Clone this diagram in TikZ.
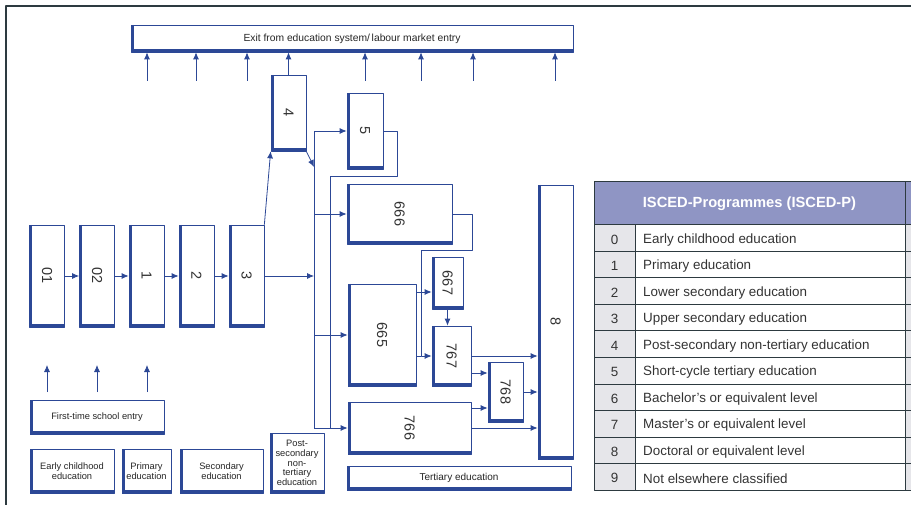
\documentclass[tikz,border=0pt]{standalone}
\usepackage{fontspec}
\setmainfont{Liberation Sans}
\usepackage{graphicx}
\usetikzlibrary{arrows.meta}

\definecolor{iscedblue}{RGB}{44,72,150}
\definecolor{headblue}{RGB}{143,149,196}
\definecolor{cellgrey}{RGB}{230,230,234}
\definecolor{framegrey}{RGB}{45,58,64}
\newcommand{\vlab}[1]{\rotatebox{-90}{#1}}

\begin{document}
\begin{tikzpicture}[x=1pt,y=-1pt,>={Latex[length=7pt,width=6pt]},line join=round,
    blk/.style={draw=iscedblue,line width=.7pt,fill=white,inner sep=1pt,
      path picture={\draw[iscedblue,line width=5.5pt]
        (path picture bounding box.north west) -- (path picture bounding box.south west)
        -- (path picture bounding box.south east);}},
    flow/.style={iscedblue,line width=.8pt},
    numlab/.style={font=\fontsize{14.5}{16}\selectfont,text=black!80},
    txtsmall/.style={font=\fontsize{9.3}{9.6}\selectfont,align=center,text=black!85},
    tabline/.style={framegrey,line width=1pt},
    tabtxt/.style={font=\fontsize{13.4}{15}\selectfont,text=black!80,inner sep=0pt}]
    \useasboundingbox (0,0) rectangle (911,505);

    % Frame of the figure.
    \draw[framegrey,line width=1.5pt] (6,505) -- (6,6) -- (911,6);

    % Exit bar at the top.
    \node[blk,txtsmall,font=\fontsize{10.3}{12}\selectfont,minimum width=442pt,minimum height=27pt] (exit) at (352,38.5)
      {Exit from education system/\,labour market entry};

    % The chain of school levels.
    \node[blk,numlab,minimum width=35pt,minimum height=102pt] (n01) at (47,276) {\vlab{01}};
    \node[blk,numlab,minimum width=35pt,minimum height=102pt] (n02) at (97,276) {\vlab{02}};
    \node[blk,numlab,minimum width=35pt,minimum height=102pt] (n1) at (146.5,276) {\vlab{1}};
    \node[blk,numlab,minimum width=35pt,minimum height=102pt] (n2) at (196.5,276) {\vlab{2}};
    \node[blk,numlab,minimum width=35pt,minimum height=102pt] (n3) at (246.5,276) {\vlab{3}};
    \node[blk,numlab,minimum width=35pt,minimum height=76pt] (n4) at (288.5,113) {\vlab{4}};

    % Tertiary programmes.
    \node[blk,numlab,minimum width=36pt,minimum height=76pt] (n5) at (365,131) {\vlab{5}};
    \node[blk,numlab,minimum width=105pt,minimum height=60pt] (n666) at (399.5,214) {\vlab{666}};
    \node[blk,numlab,minimum width=68pt,minimum height=102pt] (n665) at (382,335) {\vlab{665}};
    \node[blk,numlab,minimum width=31pt,minimum height=52pt] (n667) at (447.5,283) {\vlab{667}};
    \node[blk,numlab,minimum width=39pt,minimum height=60pt] (n767) at (451.5,356) {\vlab{767}};
    \node[blk,numlab,minimum width=35pt,minimum height=60pt] (n768) at (505.5,392) {\vlab{768}};
    \node[blk,numlab,minimum width=123pt,minimum height=52pt] (n766) at (409.5,428) {\vlab{766}};
    \node[blk,numlab,minimum width=35pt,minimum height=274pt] (n8) at (555.5,322) {\vlab{8}};

    % Captions below.
    \node[blk,txtsmall,minimum width=134pt,minimum height=34pt] (entry) at (97,417) {First-time school entry};
    \node[blk,txtsmall,minimum width=84pt,minimum height=44pt] (early) at (72,471) {Early childhood\\education};
    \node[blk,txtsmall,minimum width=49pt,minimum height=44pt] (prim) at (146.5,471) {Primary\\education};
    \node[blk,txtsmall,minimum width=83pt,minimum height=44pt] (second) at (221.5,471) {Secondary\\education};
    \node[blk,txtsmall,minimum width=54pt,minimum height=60pt] (post) at (297,463) {Post-\\secondary\\non-\\tertiary\\education};
    \node[blk,txtsmall,font=\fontsize{10}{12}\selectfont,minimum width=224pt,minimum height=24pt] (tert) at (459,478) {Tertiary education};

    % Exits and entries.
    \foreach \x in {147,196,247,365,421,473,555}
      \draw[flow,->] (\x,81) -- (\x,0 |- exit.south);
    \draw[flow,->] (n4.north) -- (n4.north |- exit.south);
    \foreach \x in {47,97,147}
      \draw[flow,->] (\x,392) -- (\x,365);

    % Flows through school.
    \foreach \a/\b in {n01/n02,n02/n1,n1/n2,n2/n3}
      \draw[flow,->] (\a) -- (\b);
    \coordinate (busA) at (314,0);
    \coordinate (busB) at (330,0);
    \coordinate (j4) at (314,167);
    \draw[flow,->] (n3) -- (busA |- n3);
    \draw[flow,->] (n3.north east) -- (n4.south west);
    \draw[flow,->] (n4.south east) -- (j4);
    \draw[flow] (busA |- n5.west) -- (busA |- n766.west);
    \foreach \t in {n5,n666,n665,n766}
      \draw[flow,->] (busA |- \t.west) -- (\t.west);
    \draw[flow] (n5.east) -| (397,176) -| (busB |- n766.west);

    % Flows through tertiary.
    \draw[flow,->] (n666.east) -| (472,250) -| (421,356) -- (n767.west);
    \draw[flow] (n665.east |- n767.west) -- (421,356);
    \draw[flow,->] (n665.east |- 0,292) -- (n667.west |- 0,292);
    \draw[flow,->] (n667.south) -- (n667.south |- n767.north);
    \draw[flow,->] (n767.east) -- (n8.west |- n767.east);
    \draw[flow,->] (n767.east |- 0,373) -- (n768.west |- 0,373);
    \draw[flow,->] (n766.east |- 0,408) -- (n768.west |- 0,408);
    \draw[flow,->] (n768.east) -- (n8.west |- n768.east);
    \draw[flow,->] (n766.east) -- (n8.west |- n766.east);

    % The table of ISCED programmes.
    \fill[headblue] (594,182) rectangle (911,225);
    \fill[cellgrey] (594,225) rectangle (635,490);
    \fill[cellgrey] (905,225) rectangle (911,490);
    \node[font=\bfseries\fontsize{14.7}{16}\selectfont,text=white] (head) at (749.5,204)
      {ISCED-Programmes (ISCED-P)};
    \foreach \i in {0,...,9}
      \draw[tabline] (594,{225+26.5*\i}) -- (911,{225+26.5*\i});
    \draw[tabline] (911,182) -- (594,182) -- (594,490) -- (911,490);
    \draw[tabline] (635,225) -- (635,490);
    \draw[tabline] (905,182) -- (905,490);
    \foreach \n/\t [count=\i from 0] in {0/Early childhood education,1/Primary education,
        2/Lower secondary education,3/Upper secondary education,
        4/Post-secondary non-tertiary education,5/Short-cycle tertiary education,
        6/Bachelor’s or equivalent level,7/Master’s or equivalent level,
        8/Doctoral or equivalent level,9/Not elsewhere classified} {
      \node[tabtxt] (num\n) at (614.5,{226.5+26.5*(\i+0.5)}) {\n};
      \node[tabtxt,anchor=west] (row\n) at (643,{226.5+26.5*(\i+0.5)}) {\t};
    }
  \end{tikzpicture}
\end{document}
